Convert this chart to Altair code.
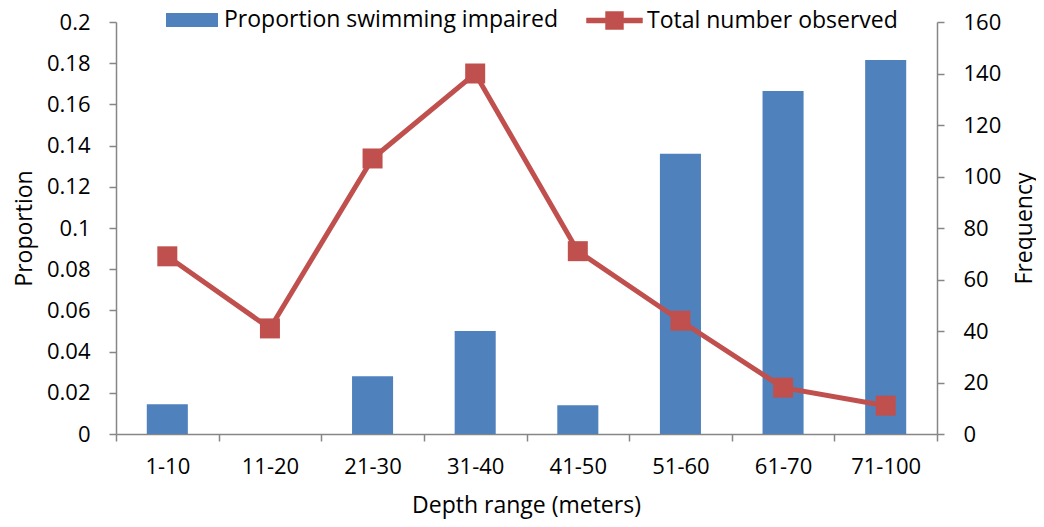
import altair as alt
import pandas as pd

categories = ["1-10", "11-20", "21-30", "31-40", "41-50", "51-60", "61-70", "71-100"]
proportion = [0.0145, 0.0, 0.028, 0.05, 0.014, 0.136, 0.1665, 0.1815]
frequency = [69, 41, 107, 140, 71, 44, 18, 11]
prop_ticks = [0, 0.02, 0.04, 0.06, 0.08, 0.1, 0.12, 0.14, 0.16, 0.18, 0.2]
freq_ticks = [0, 20, 40, 60, 80, 100, 120, 140, 160]

df = pd.DataFrame({"depth": categories, "proportion": proportion, "frequency": frequency})

FONT = "Open Sans"
FS = 22
TFS = 23
BLUE = "#4F81BD"
RED = "#C0504D"
GREY = "#868686"

x_enc = alt.X(
    "depth:N",
    sort=categories,
    scale=alt.Scale(paddingInner=0, paddingOuter=0),
    axis=alt.Axis(
        title="Depth range (meters)",
        labelAngle=0,
        tickBand="extent",
        tickSize=7,
        labelPadding=15,
        titleX=410,
        titleY=71,
        titleBaseline="middle",
    ),
)

base = alt.Chart(df).encode(x=x_enc)

bars = base.mark_bar(width=alt.RelativeBandSize(0.4)).transform_calculate(
    s1="'Proportion swimming impaired'"
).encode(
    y=alt.Y(
        "proportion:Q",
        scale=alt.Scale(domain=[0, 0.2], nice=False),
        axis=alt.Axis(
            title="Proportion",
            orient="left",
            values=prop_ticks,
            format="~g",
            tickSize=7,
            labelPadding=19,
            titleX=-92,
            titleY=206,
            titleAngle=270,
            titleBaseline="middle",
            titleAlign="center",
        ),
    ),
    color=alt.Color(
        "s1:N",
        scale=alt.Scale(domain=["Proportion swimming impaired"], range=[BLUE]),
        legend=alt.Legend(
            title=None,
            orient="none",
            legendX=50,
            legendY=-28,
            padding=0,
            symbolType="M-1,-0.27H1V0.27H-1Z",
            symbolSize=2704,
            symbolStrokeWidth=0,
            labelOffset=6,
        ),
    ),
)

line_y = alt.Y(
    "frequency:Q",
    scale=alt.Scale(domain=[0, 160], nice=False),
    axis=alt.Axis(
        title="Frequency",
        orient="right",
        values=freq_ticks,
        tickSize=7,
        labelPadding=19,
        titleX=87,
        titleY=206,
        titleAngle=270,
        titleBaseline="middle",
        titleAlign="center",
    ),
)

line_color = alt.Color(
    "s2:N",
    scale=alt.Scale(domain=["Total number observed"], range=[RED]),
    legend=alt.Legend(
        title=None,
        orient="none",
        legendX=470,
        legendY=-30,
        padding=0,
        symbolType="M-1,-0.09H-0.32V-0.32H0.32V-0.09H1V0.09H0.32V0.32H-0.32V0.09H-1Z",
        symbolSize=3136,
        symbolFillColor=RED,
        symbolStrokeColor=RED,
        symbolStrokeWidth=0.5,
        labelOffset=4,
    ),
)

line = base.mark_line(strokeWidth=5).transform_calculate(
    s2="'Total number observed'"
).encode(y=line_y, color=line_color)

points = base.mark_point(shape="square", filled=True, size=400, opacity=1).transform_calculate(
    s2="'Total number observed'"
).encode(y=line_y, color=line_color)

chart = (
    alt.layer(bars, line + points)
    .resolve_scale(y="independent", color="independent")
    .properties(
        width=821,
        height=412,
        autosize=alt.AutoSizeParams(type="none"),
        padding={"left": 108, "top": 14, "right": 99, "bottom": 85},
    )
    .configure_view(stroke=None)
    .configure_axis(
        grid=False,
        domainColor=GREY,
        domainWidth=1.5,
        tickColor=GREY,
        tickWidth=1.5,
        labelFont=FONT,
        labelFontSize=FS,
        labelColor="#000000",
        titleFont=FONT,
        titleFontSize=TFS,
        titleFontWeight="normal",
        titleColor="#000000",
    )
    .configure_legend(
        labelFont=FONT,
        labelFontSize=TFS,
        labelColor="#000000",
        labelLimit=0,
    )
)

chart.save("out.html", embed_options={"renderer": "svg", "actions": False})
